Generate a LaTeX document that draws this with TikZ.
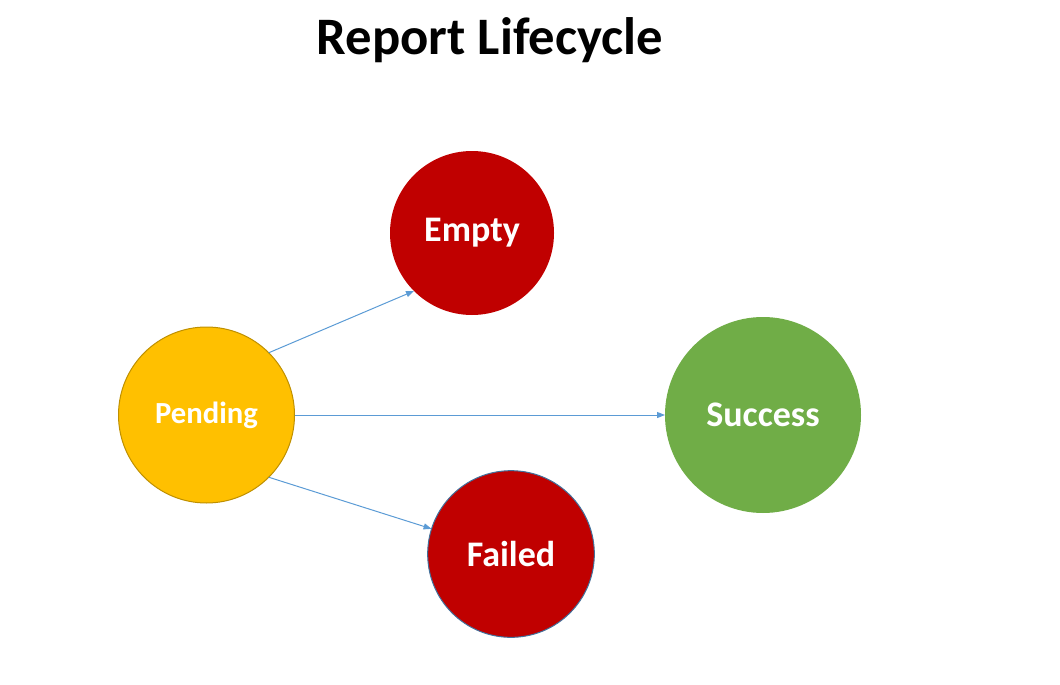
\documentclass[tikz,border=0pt]{standalone}
\usepackage{fontspec}
\setmainfont{Carlito}
\usepackage{tikz}
\usepackage{tkz-graph}
\usetikzlibrary{arrows.meta}

\definecolor{pendingfill}{HTML}{FFC000}
\definecolor{pendingline}{HTML}{BF9000}
\definecolor{failfill}{HTML}{C00000}
\definecolor{failline}{HTML}{41719C}
\definecolor{successfill}{HTML}{70AD47}
\definecolor{arrowblue}{HTML}{5B9BD5}

\begin{document}
\begin{tikzpicture}[x=0.75pt,y=-0.75pt]
	\useasboundingbox (0,0) rectangle (1060,685);
	\node (title) at (490,40) {\fontsize{39.5}{39.5}\selectfont\bfseries Report Lifecycle};
	\GraphInit[vstyle=Normal]
	\tikzset{VertexStyle/.style={shape=circle, inner sep=0pt, text=white,
			font=\fontsize{27}{27}\selectfont\bfseries}}
	\tikzset{VertexStyle/.append style={fill=pendingfill, draw=pendingline, line width=0.75pt, minimum size=132pt,
			font=\fontsize{23}{23}\selectfont\bfseries}}
	\Vertex[x=206.5,y=415]{Pending}
	\tikzset{VertexStyle/.append style={fill=failfill, draw=none, minimum size=123pt,
			font=\fontsize{27}{27}\selectfont\bfseries}}
	\Vertex[x=472,y=233]{Empty}
	\tikzset{VertexStyle/.append style={fill=failfill, draw=failline, line width=0.75pt, minimum size=125pt}}
	\Vertex[x=511,y=554]{Failed}
	\tikzset{VertexStyle/.append style={fill=successfill, draw=none, minimum size=147pt}}
	\Vertex[x=763,y=415]{Success}
	\tikzset{EdgeStyle/.style={-{Triangle[length=6pt,width=4.5pt]}, color=arrowblue, line width=0.75pt}}
	\Edge(Pending.north east)(Empty.south west)
	\Edge(Pending)(Success)
	\Edge(Pending.south east)(Failed)
\end{tikzpicture}
\end{document}
